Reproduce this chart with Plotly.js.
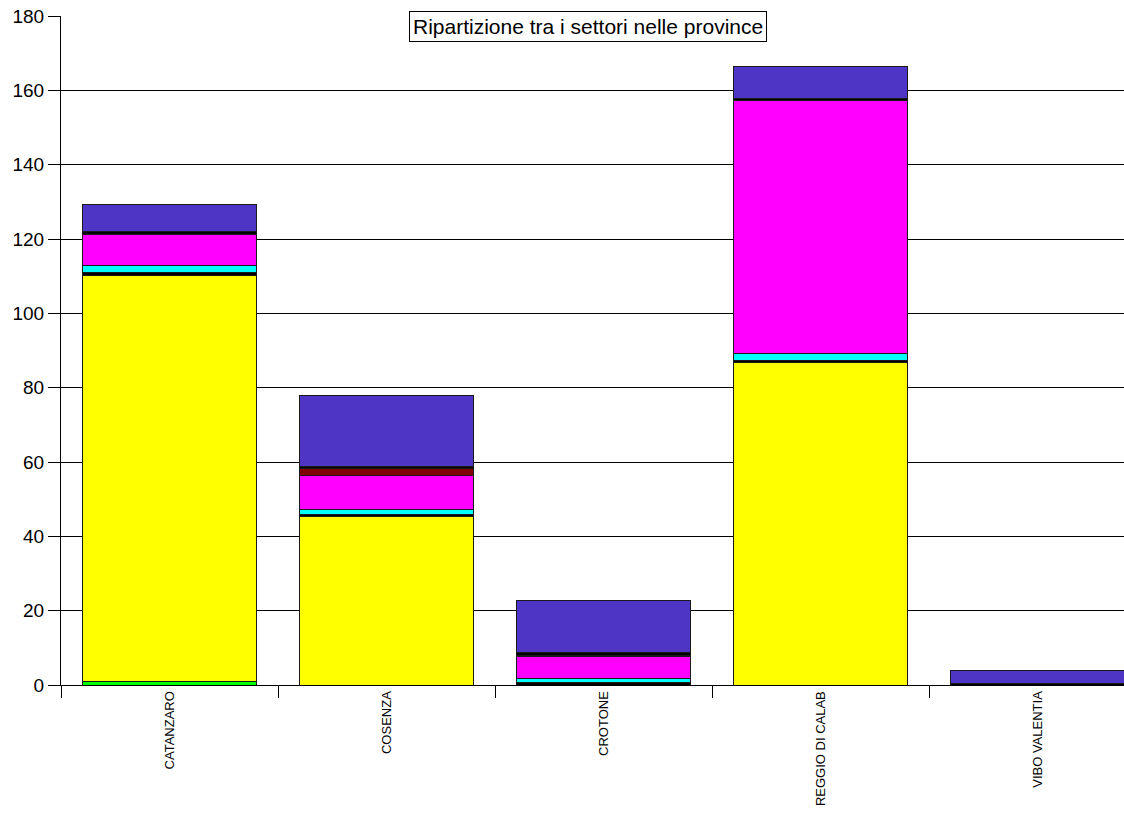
<!DOCTYPE html>
<html>
<head>
<meta charset="utf-8">
<script src="https://cdn.plot.ly/plotly-3.0.1.min.js"></script>
<style>
html,body{margin:0;padding:0;overflow:hidden;background:#fff;width:1124px;height:837px;}
#chart{width:1150px;height:837px;}
</style>
</head>
<body>
<div id="chart"></div>
<script>
const categories = ["CATANZARO", "COSENZA", "CROTONE", "REGGIO DI CALAB", "VIBO VALENTIA"];
const seriesNames = ["Serie 1", "Serie 2", "Serie 3", "Serie 4", "Serie 5", "Serie 6", "Serie 7", "Serie 8"];
const green   = [0.9, 0, 0, 0, 0];
const yellow  = [109.4, 45.4, 0, 86.9, 0];
const black1  = [0.7, 0.5, 0.7, 0.5, 0.4];
const cyan    = [2.0, 1.2, 1.1, 1.8, 0];
const magenta = [8.3, 9.3, 5.8, 68.2, 0];
const darkred = [0, 1.8, 0.4, 0, 0];
const black2  = [0.7, 0.7, 0.8, 0.4, 0];
const blue    = [7.2, 19.1, 14.0, 8.7, 3.4];
const yTicks  = [0, 20, 40, 60, 80, 100, 120, 140, 160, 180];

const seriesValues = [green, yellow, black1, cyan, magenta, darkred, black2, blue];
const colors = ["#00FF00", "#FFFF00", "#000000", "#00FFFF", "#FF00FF", "#800000", "#000000", "#4F35C6"];

const traces = seriesValues.map((vals, i) => ({
  type: "bar",
  name: seriesNames[i],
  x: categories,
  y: vals,
  marker: { color: colors[i], line: { color: "#1a1a1a", width: 1 } },
  hoverinfo: "x+y"
}));

const layout = {
  width: 1150,
  height: 837,
  barmode: "stack",
  bargap: 0.2,
  showlegend: false,
  paper_bgcolor: "#fff",
  plot_bgcolor: "#fff",
  margin: { l: 61, r: 4, t: 16, b: 152 },
  font: { family: "Liberation Sans, Arial, sans-serif", color: "#000" },
  xaxis: {
    type: "category",
    tickson: "boundaries",
    ticks: "outside",
    ticklen: 12,
    tickcolor: "#000",
    tickangle: -90,
    tickfont: { size: 13, color: "#000" },
    showline: true,
    linecolor: "#000",
    linewidth: 1,
    showgrid: false,
    zeroline: false
  },
  yaxis: {
    range: [0, 180],
    tickvals: yTicks,
    ticktext: yTicks.map(String),
    ticks: "outside",
    ticklen: 12,
    tickcolor: "#000",
    tickfont: { size: 19, color: "#000" },
    showline: true,
    linecolor: "#000",
    linewidth: 1,
    showgrid: true,
    gridcolor: "#000",
    gridwidth: 1,
    zeroline: false
  },
  annotations: [{
    text: "Ripartizione tra i settori nelle province",
    xref: "paper", yref: "paper",
    x: 0.4857, y: 0.9836,
    xanchor: "center", yanchor: "middle",
    showarrow: false,
    font: { size: 21, color: "#000", family: "Liberation Sans, Arial, sans-serif" },
    bgcolor: "#fff",
    bordercolor: "#000",
    borderwidth: 1,
    borderpad: 3
  }]
};

Plotly.newPlot("chart", traces, layout, { displayModeBar: false, staticPlot: true });
</script>
</body>
</html>
